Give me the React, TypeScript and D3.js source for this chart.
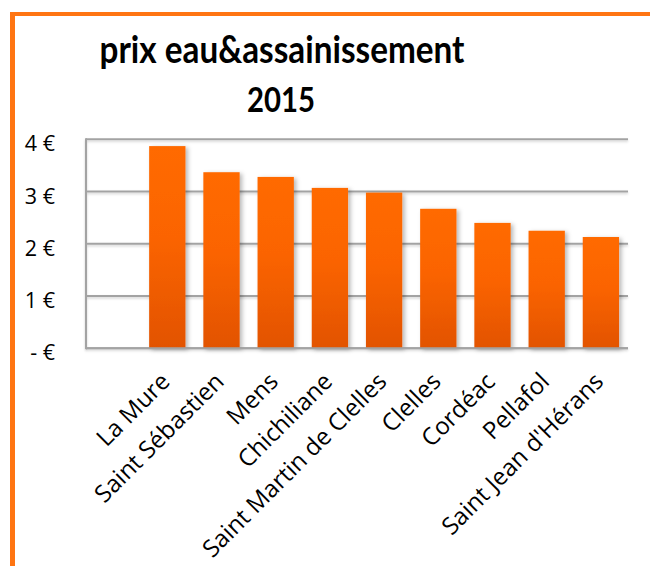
import React from "react";
import * as d3 from "d3";

const categories = [
  "La Mure",
  "Saint Sébastien",
  "Mens",
  "Chichiliane",
  "Saint Martin de Clelles",
  "Clelles",
  "Cordéac",
  "Pellafol",
  "Saint Jean d'Hérans",
];
const values = [3.87, 3.37, 3.28, 3.07, 2.98, 2.67, 2.4, 2.25, 2.13];
const yTicks = [0, 1, 2, 3, 4];
const yTickLabels = ["- €", "1 €", "2 €", "3 €", "4 €"];
const titleLines = ["prix eau&assainissement", "2015"];

const W = 650;
const H = 566;
const plotLeft = 86;
const plotRight = 628;
const plotTop = 139.3;
const plotBottom = 348.3;
const FONT = "'Open Sans', Lato, sans-serif";
const TITLE_FONT = "Lato, 'Open Sans', sans-serif";

export default function App() {
  const y = d3.scaleLinear().domain([0, 4]).range([plotBottom, plotTop]);
  const slot = (plotRight - plotLeft) / 10;
  const x = d3
    .scaleBand<string>()
    .domain(categories)
    .range([plotLeft + slot, plotRight])
    .paddingInner(0.33)
    .paddingOuter(0.165);

  return (
    <svg
      width={W}
      height={H}
      viewBox={`0 0 ${W} ${H}`}
      style={{ position: "absolute", left: 0, top: 0, display: "block", background: "#fff" }}
    >
      <defs>
        <linearGradient id="barGrad" x1="0" y1="0" x2="0" y2="1">
          <stop offset="0%" stopColor="#FF6A00" />
          <stop offset="45%" stopColor="#FB6400" />
          <stop offset="100%" stopColor="#E25300" />
        </linearGradient>
        <filter id="shadow" x="-20%" y="-5%" width="150%" height="115%">
          <feDropShadow dx="2.5" dy="1.5" stdDeviation="2" floodColor="#000" floodOpacity="0.28" />
        </filter>
        <filter id="lineShadow" x="-5%" y="-200%" width="110%" height="500%">
          <feDropShadow dx="0" dy="1.5" stdDeviation="0.8" floodColor="#000" floodOpacity="0.18" />
        </filter>
      </defs>

      {/* frame */}
      <line x1={10} x2={W} y1={14} y2={14} stroke="#FF7512" strokeWidth={4} />
      <line x1={12.5} x2={12.5} y1={12} y2={H} stroke="#FF7512" strokeWidth={5} />

      {/* title */}
      <text
        x={282}
        y={63}
        textAnchor="middle"
        fontFamily={TITLE_FONT}
        fontWeight={700}
        fontSize={38}
        textLength={365}
        lengthAdjust="spacingAndGlyphs"
        fill="#000"
      >
        {titleLines[0]}
      </text>
      <text
        x={281}
        y={112}
        textAnchor="middle"
        fontFamily={TITLE_FONT}
        fontWeight={700}
        fontSize={34}
        textLength={68}
        lengthAdjust="spacingAndGlyphs"
        fill="#000"
      >
        {titleLines[1]}
      </text>

      {/* gridlines */}
      <g filter="url(#lineShadow)">
        {yTicks.map((t) => (
          <line
            key={t}
            x1={plotLeft}
            x2={plotRight}
            y1={y(t)}
            y2={y(t)}
            stroke="#A3A3A3"
            strokeWidth={2}
          />
        ))}
        <line x1={plotLeft} x2={plotLeft} y1={plotTop - 1} y2={plotBottom + 1} stroke="#A3A3A3" strokeWidth={2} />
      </g>

      {/* y labels */}
      {yTicks.map((t, i) => (
        <text
          key={t}
          x={55}
          y={y(t) + 12}
          textAnchor="end"
          fontFamily={FONT}
          fontSize={21.5}
          fill="#000"
        >
          {yTickLabels[i]}
        </text>
      ))}

      {/* bars */}
      <g filter="url(#shadow)">
        {categories.map((c, i) => (
          <rect
            key={c}
            x={x(c)}
            y={y(values[i])}
            width={x.bandwidth()}
            height={y(0) - y(values[i])}
            fill="url(#barGrad)"
          />
        ))}
      </g>
      <line x1={plotLeft} x2={plotRight} y1={y(0)} y2={y(0)} stroke="#A3A3A3" strokeWidth={2} />

      {/* x labels */}
      {categories.map((c) => {
        const cx = (x(c) ?? 0) + x.bandwidth() / 2;
        return (
          <text
            key={c}
            transform={`translate(${cx + 4},${383}) rotate(-45)`}
            textAnchor="end"
            fontFamily={FONT}
            fontSize={24}
            fill="#000"
          >
            {c}
          </text>
        );
      })}
    </svg>
  );
}
